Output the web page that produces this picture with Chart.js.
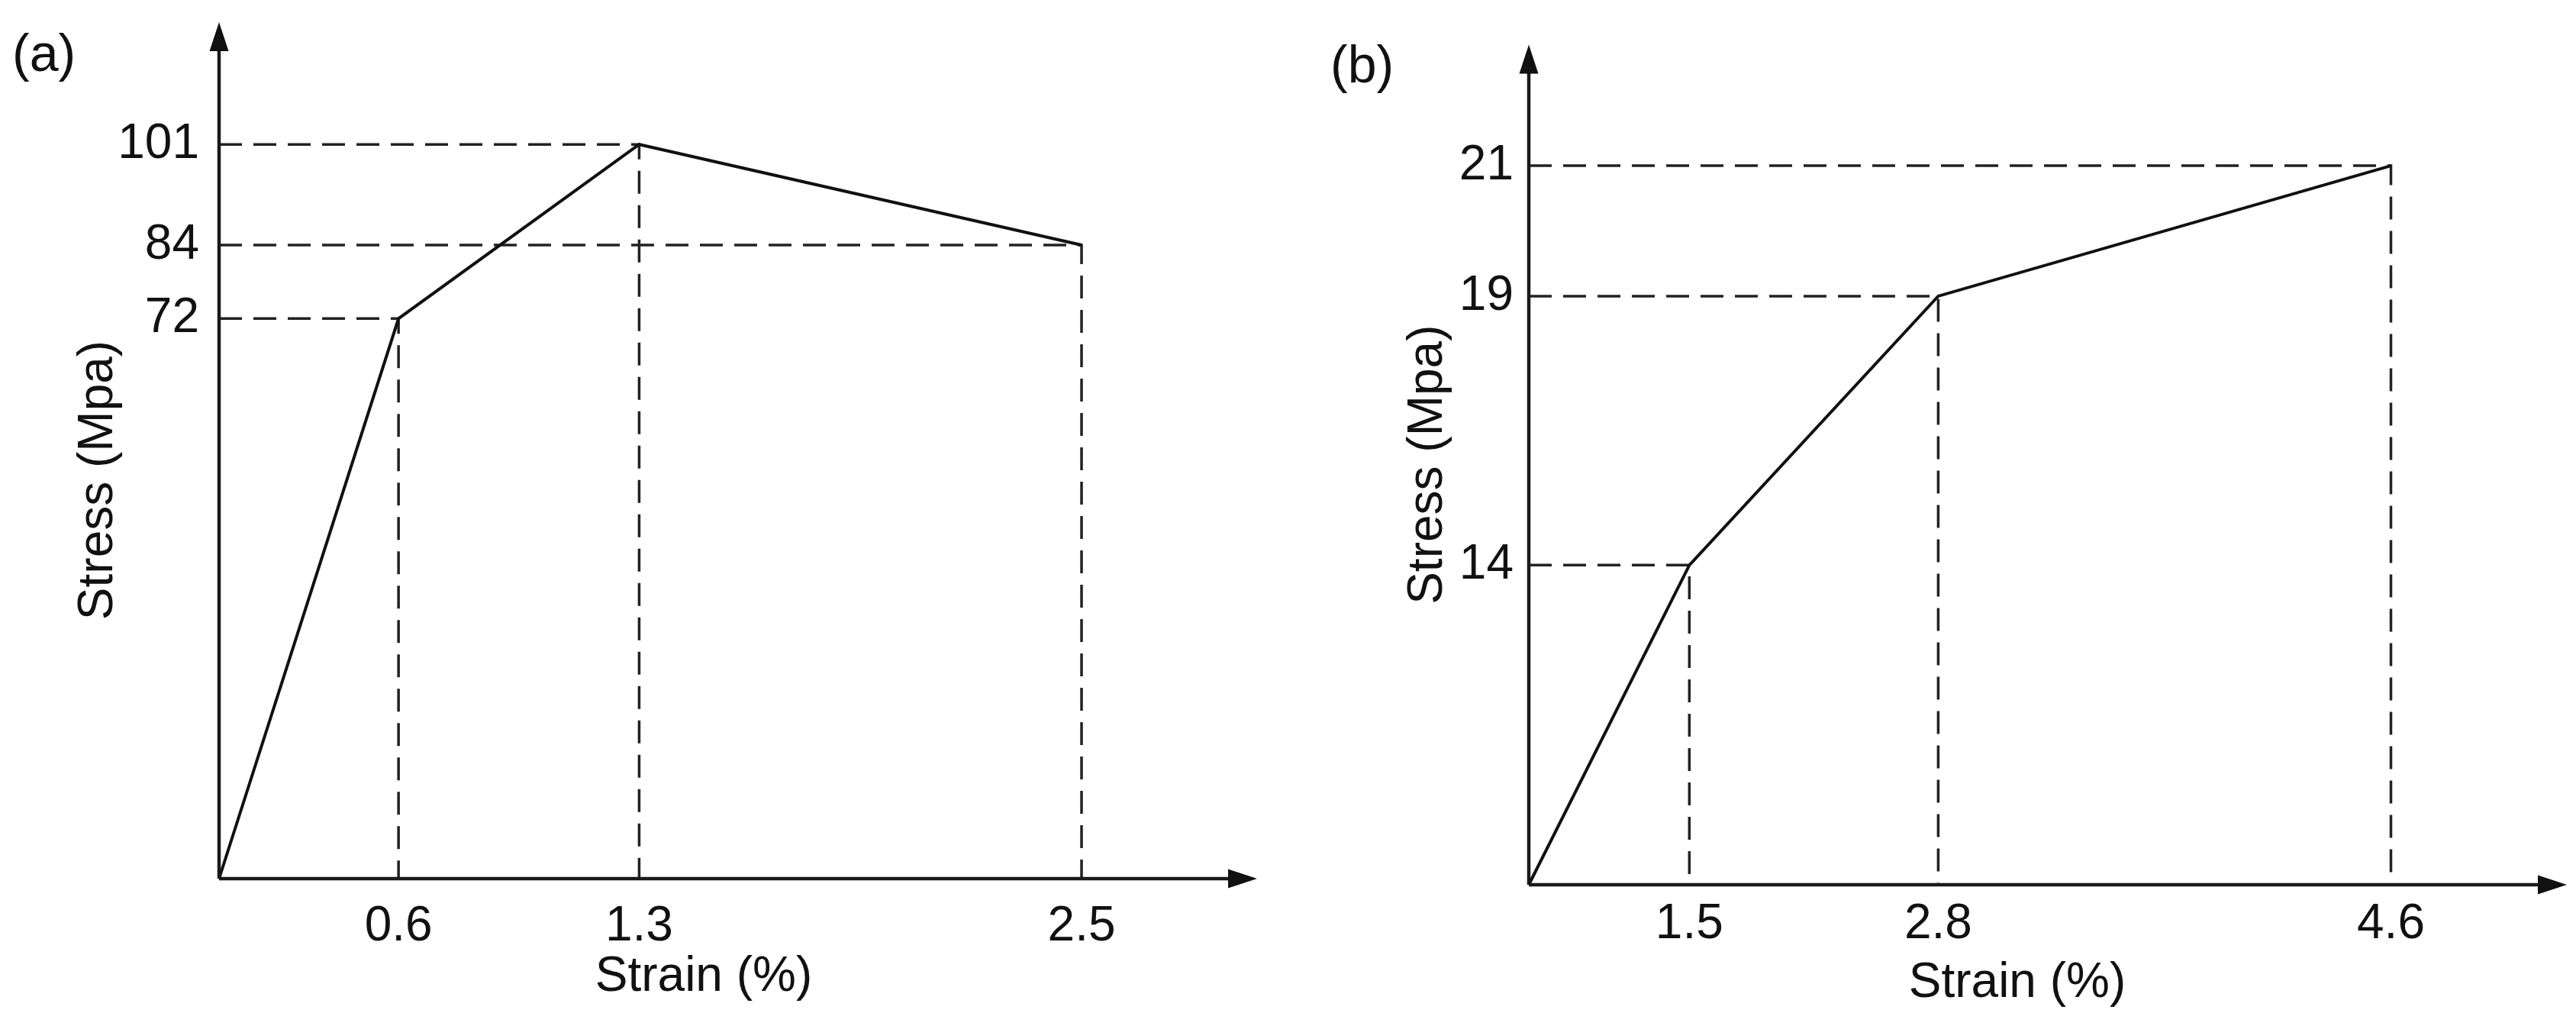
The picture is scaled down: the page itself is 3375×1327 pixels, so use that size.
<!DOCTYPE html>
<html>
<head>
<meta charset="utf-8">
<title>Stress-strain curves</title>
<script src="https://cdn.jsdelivr.net/npm/chart.js@4.4.1/dist/chart.umd.min.js"></script>
<style>
    html, body { margin: 0; padding: 0; background: #fff; }
    #wrap { position: relative; width: 3375px; height: 1327px; }
    canvas { position: absolute; top: 0; }
    #chartA { left: 0; }
    #chartB { left: 1690px; }
</style>
</head>
<body>
<div id="wrap">
    <canvas id="chartA" width="1690" height="1327"></canvas>
    <canvas id="chartB" width="1685" height="1327"></canvas>
</div>
<script>
// Panel (a)
const strainA = [0, 0.6, 1.3, 2.5];
const stressA = [0, 72, 101, 84];
const xTicksA = [0.6, 1.3, 2.5];
const yTicksA = [72, 84, 101];

// Panel (b)
const strainB = [0, 1.5, 2.8, 4.6];
const stressB = [0, 14, 19, 21];
const xTicksB = [1.5, 2.8, 4.6];
const yTicksB = [14, 19, 21];

const FONT = '"Liberation Sans", Arial, sans-serif';
Chart.defaults.font.family = FONT;
Chart.defaults.color = '#111';

// schematic axis: pixel ~ (value/max)^exponent, like the drawing in the paper
class PowScale extends Chart.LinearScale {
    getPixelForValue(value) {
        if (value === null || isNaN(value)) return NaN;
        const t = (value - this.min) / (this.max - this.min);
        const p = this.options.exponent || 1;
        return this.getPixelForDecimal(Math.sign(t) * Math.pow(Math.abs(t), p));
    }
    getValueForPixel(pixel) {
        const p = this.options.exponent || 1;
        const t = Math.max(this.getDecimalForPixel(pixel), 0);
        return this.min + Math.pow(t, 1 / p) * (this.max - this.min);
    }
}
PowScale.id = 'pow';
PowScale.defaults = {};
Chart.register(PowScale);

// axes with arrow heads + panel letter
const axisArrows = {
    id: 'axisArrows',
    afterDatasetsDraw(chart, args, opts) {
        const { ctx, chartArea } = chart;
        const { left, right, top, bottom } = chartArea;
        const tipX = right + opts.extendX;
        const tipY = top - opts.extendY;
        const len = 38, half = 12.5;
        ctx.save();
        ctx.strokeStyle = '#1a1a1a';
        ctx.fillStyle = '#111';
        ctx.lineWidth = 4.5;
        ctx.beginPath();
        ctx.moveTo(left, bottom);
        ctx.lineTo(tipX - len + 2, bottom);
        ctx.moveTo(left, bottom);
        ctx.lineTo(left, tipY + len - 2);
        ctx.stroke();

        ctx.beginPath();
        ctx.moveTo(tipX, bottom);
        ctx.lineTo(tipX - len, bottom - half);
        ctx.lineTo(tipX - len, bottom + half);
        ctx.closePath();
        ctx.fill();

        ctx.beginPath();
        ctx.moveTo(left, tipY);
        ctx.lineTo(left - half, tipY + len);
        ctx.lineTo(left + half, tipY + len);
        ctx.closePath();
        ctx.fill();

        ctx.font = '68px ' + FONT;
        ctx.textAlign = 'left';
        ctx.textBaseline = 'middle';
        ctx.fillText(opts.label, opts.labelX, opts.labelY);
        ctx.restore();
    }
};

function buildDatasets(xs, ys) {
    const pts = xs.map((x, i) => ({ x: x, y: ys[i] }));
    const sets = [{
        data: pts,
        borderColor: '#111',
        borderWidth: 4,
        pointRadius: 0,
        tension: 0,
        clip: false,
        order: 0
    }];
    // dashed guides from each point to both axes
    pts.slice(1).forEach(p => {
        sets.push({
            data: [{ x: 0, y: p.y }, { x: p.x, y: p.y }, { x: p.x, y: 0 }],
            borderColor: '#222',
            borderWidth: 3.5,
            borderDash: [30, 15],
            pointRadius: 0,
            tension: 0,
            clip: false,
            order: 1
        });
    });
    return sets;
}

function makeChart(id, cfg) {
    const canvas = document.getElementById(id);
    const H = canvas.height;
    return new Chart(canvas, {
        type: 'line',
        data: { datasets: buildDatasets(cfg.xs, cfg.ys) },
        options: {
            responsive: false,
            animation: false,
            layout: {
                padding: { left: 0, top: cfg.top, right: canvas.width - cfg.right, bottom: 0 }
            },
            plugins: {
                legend: { display: false },
                tooltip: { enabled: false },
                axisArrows: cfg.deco
            },
            scales: {
                x: {
                    type: 'pow',
                    exponent: cfg.xExp,
                    min: 0,
                    max: cfg.xMax,
                    grid: { display: false, drawTicks: false },
                    border: { display: false },
                    afterBuildTicks: axis => { axis.ticks = cfg.xTicks.map(v => ({ value: v })); },
                    afterFit: s => { s.height = H - cfg.originY; },
                    ticks: {
                        autoSkip: false,
                        maxRotation: 0,
                        padding: cfg.xTickPad,
                        font: { size: 64 },
                        callback: v => String(v)
                    },
                    title: {
                        display: true,
                        text: 'Strain (%)',
                        font: { size: 64 },
                        padding: { top: 0, bottom: cfg.xTitlePad }
                    }
                },
                y: {
                    type: 'pow',
                    exponent: cfg.yExp,
                    min: 0,
                    max: cfg.yMax,
                    grid: { display: false, drawTicks: false },
                    border: { display: false },
                    afterBuildTicks: axis => { axis.ticks = cfg.yTicks.map(v => ({ value: v })); },
                    afterFit: s => { s.width = cfg.originX; },
                    ticks: {
                        autoSkip: false,
                        padding: cfg.yTickPad,
                        font: { size: 64 },
                        callback: v => String(v)
                    },
                    title: {
                        display: true,
                        text: 'Stress (Mpa)',
                        font: { size: 64 },
                        padding: { top: cfg.yTitlePad, bottom: 0 }
                    }
                }
            }
        },
        plugins: [axisArrows]
    });
}

const chartA = makeChart('chartA', {
    xs: strainA, ys: stressA, xTicks: xTicksA, yTicks: yTicksA,
    originX: 287, originY: 1151, top: 107, right: 1557,
    xExp: 1.1, xMax: 2.78, yExp: 0.8, yMax: 111.9,
    xTickPad: 25, xTitlePad: 8, yTickPad: 26, yTitlePad: 91,
    deco: { label: '(a)', labelX: 16, labelY: 74, extendX: 90, extendY: 78 }
});

const chartB = makeChart('chartB', {
    xs: strainB, ys: stressB, xTicks: xTicksB, yTicks: yTicksB,
    originX: 313, originY: 1159, top: 47, right: 1593,
    xExp: 1.5, xMax: 5.0, yExp: 2, yMax: 22.7,
    xTickPad: 14, xTitlePad: 0, yTickPad: 20, yTitlePad: 143,
    deco: { label: '(b)', labelX: 53, labelY: 89, extendX: 80, extendY: 0 }
});
</script>
</body>
</html>
